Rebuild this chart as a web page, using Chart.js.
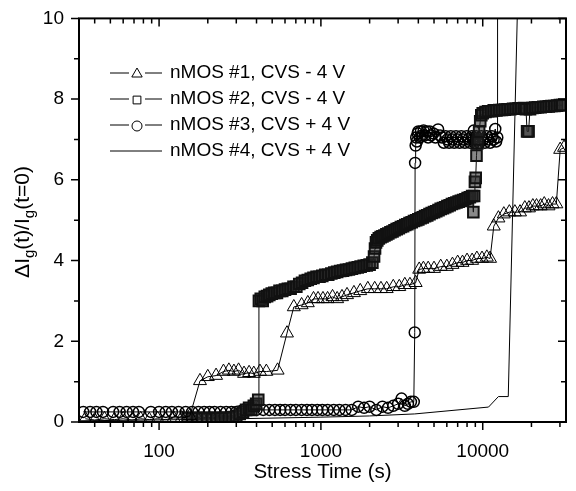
<!DOCTYPE html>
<html>
<head>
<meta charset="utf-8">
<script src="https://cdn.jsdelivr.net/npm/chart.js@4.4.0/dist/chart.umd.min.js"></script>
<style>
  html, body { margin: 0; padding: 0; background: #fff; }
  #wrap { width: 576px; height: 491px; position: relative; }
</style>
</head>
<body>
<div id="wrap"><canvas id="chart"></canvas></div>
<script>
// Values: [stress time (s), dIg/Ig]
const nmos1 = [
  [35,0.08],[40,0.05],[46,0.08],[53,0.06],[60,0.08],[68,0.05],[77,0.08],[87,0.06],[98,0.08],[110,0.06],
  [123,0.1],[138,0.1],[155,0.15],[179,1.02],[200,1.12],[225,1.15],[250,1.25],[270,1.28],[290,1.25],
  [310,1.28],[335,1.2],[360,1.22],[385,1.2],[420,1.25],[460,1.25],[540,1.28],[617,2.2],[680,2.85],
  [760,2.9],[830,2.95],[900,3.05],[960,3.05],[1030,3.05],[1100,3.05],[1180,3.1],[1260,3.05],[1350,3.1],
  [1450,3.15],[1600,3.2],[1750,3.25],[1950,3.3],[2150,3.3],[2350,3.3],[2550,3.3],[2800,3.35],[3050,3.35],
  [3300,3.4],[3550,3.4],[3850,3.45],[4050,3.78],[4300,3.8],[4600,3.8],[5000,3.8],[5500,3.85],[6000,3.85],
  [6500,3.9],[7000,3.95],[7500,3.95],[8000,4.0],[8600,4.0],[9200,4.05],[9900,4.05],[10600,4.08],[11100,4.05],
  [11700,4.85],[12500,5.05],[13500,5.15],[14600,5.2],[15800,5.2],[17000,5.2],[18200,5.3],[19300,5.3],
  [20400,5.35],[21500,5.35],[22800,5.35],[24000,5.4],[25500,5.35],[27000,5.4],[28500,5.4],[30100,6.75],[31800,6.8]
];
const nmos2 = [
  [150,0.1],[160,0.08],[172,0.1],[185,0.08],[198,0.1],[212,0.08],[226,0.1],[240,0.1],[255,0.1],[270,0.1],
  [285,0.12],[300,0.15],[315,0.2],[330,0.25],[345,0.3],[360,0.35],[372,0.3],[385,0.4],[398,0.45],[410,0.55],
  [414,3.0],[425,3.05],[437,3.0],[450,3.1],[465,3.12],[480,3.15],[497,3.18],[515,3.2],[535,3.2],[555,3.25],
  [577,3.25],[600,3.28],[625,3.3],[650,3.3],[677,3.35],[705,3.35],[735,3.42],[765,3.45],[797,3.5],[830,3.52],
  [865,3.55],[900,3.57],[940,3.6],[980,3.6],[1020,3.62],[1065,3.65],[1110,3.65],[1160,3.68],[1210,3.7],
  [1260,3.72],[1315,3.74],[1370,3.75],[1430,3.77],[1490,3.78],[1555,3.8],[1620,3.82],[1690,3.83],[1760,3.85],
  [1840,3.87],[1920,3.88],[2000,3.9],[2080,3.95],[2130,4.1],[2160,4.3],[2190,4.45],[2230,4.5],[2280,4.55],
  [2340,4.58],[2400,4.6],[2470,4.62],[2540,4.65],[2610,4.67],[2690,4.7],[2770,4.72],[2850,4.75],[2940,4.78],
  [3030,4.8],[3120,4.83],[3220,4.85],[3320,4.88],[3420,4.9],[3530,4.93],[3640,4.95],[3760,4.98],[3880,5.0],
  [4000,5.02],[4130,5.05],[4260,5.07],[4400,5.1],[4540,5.12],[4690,5.15],[4840,5.18],[5000,5.2],[5160,5.22],
  [5330,5.25],[5500,5.28],[5680,5.3],[5860,5.32],[6050,5.35],[6250,5.37],[6450,5.4],[6660,5.42],[6880,5.44],
  [7100,5.46],[7330,5.48],[7570,5.5],[7820,5.52],[8070,5.55],[8330,5.57],[8600,5.6],[8750,5.2],[8850,5.6],
  [8950,5.95],[9050,6.05],[9150,6.6],[9250,6.9],[9350,7.0],[9500,7.2],[9650,7.45],[9800,7.6],[10000,7.65],
  [10400,7.68],[10800,7.7],[11250,7.7],[11700,7.72],[12150,7.72],[12650,7.73],[13150,7.73],[13700,7.74],
  [14250,7.75],[14800,7.75],[15400,7.76],[16000,7.76],[16650,7.77],[17300,7.77],[18000,7.78],[18500,7.75],
  [18800,7.2],[19200,7.2],[19600,7.75],[20300,7.78],[21100,7.79],[21900,7.8],[22800,7.8],[23700,7.81],
  [24600,7.81],[25600,7.82],[26600,7.83],[27700,7.83],[28800,7.84],[30000,7.85],[31000,7.85]
];
const nmos3 = [
  [34,0.25],[37.5,0.25],[41,0.25],[45,0.25],[52,0.25],[57,0.25],[63,0.25],[69,0.25],[75,0.25],[89,0.25],
  [100,0.25],[110,0.25],[120,0.25],[132,0.25],[146,0.25],[160,0.25],[175,0.25],[190,0.25],[205,0.25],
  [220,0.25],[240,0.25],[260,0.25],[280,0.25],[300,0.25],[330,0.3],[360,0.3],[400,0.3],[440,0.3],[480,0.3],
  [520,0.3],[560,0.3],[600,0.3],[650,0.3],[700,0.3],[760,0.3],[820,0.3],[880,0.3],[950,0.3],[1020,0.3],
  [1100,0.3],[1200,0.3],[1300,0.3],[1420,0.3],[1550,0.3],[1700,0.38],[1850,0.35],[2000,0.38],[2200,0.3],
  [2400,0.38],[2600,0.35],[2800,0.4],[3000,0.45],[3150,0.58],[3300,0.4],[3450,0.45],[3600,0.5],[3750,0.5],
  [3800,2.22],[3820,6.42],[3850,6.85],[3880,7.05],[3920,6.95],[3960,7.15],[4000,7.2],[4080,7.05],[4150,7.2],
  [4230,7.1],[4310,7.22],[4400,7.1],[4500,7.2],[4600,7.05],[4700,7.2],[4800,7.1],[4950,7.15],[5100,7.05],
  [5300,7.25],[5450,7.1],[5600,7.05],[5750,6.92],[5900,7.08],[6050,7.0],[6200,6.92],[6350,7.08],[6500,7.0],
  [6670,6.92],[6840,7.08],[7010,7.0],[7190,6.92],[7370,7.08],[7560,7.0],[7750,6.92],[7950,7.08],
  [8150,7.0],[8360,6.92],[8570,7.08],[8700,7.0],[8800,7.22],[8900,6.92],[9100,7.08],[9330,7.0],
  [9570,6.92],[9810,7.08],[10060,7.0],[10310,6.92],[10570,7.08],[10840,7.0],[11110,6.92],[11390,7.08],
  [11680,7.0],[11950,7.26],[12100,6.95],[12300,7.05],[12350,60]
];
const nmos4 = [
  [32,0.03],[100,0.05],[300,0.08],[1000,0.12],[2000,0.15],[3800,0.2],[10860,0.37],[12500,0.63],[14380,0.63],[16560,11]
];

const seriesLabels = ['nMOS #1, CVS - 4 V', 'nMOS #2, CVS - 4 V', 'nMOS #3, CVS + 4 V', 'nMOS #4, CVS + 4 V'];
const xTickLabels = [100, 1000, 10000];
const yTickLabels = [0, 2, 4, 6, 8, 10];

const FONT = "'Liberation Sans', Arial, sans-serif";

function toPoints(arr) {
    return arr.map(p => ({ x: p[0], y: p[1] }));
}

// frame, ticks, y title and legend drawn on top
const decorPlugin = {
    id: 'decor',
    afterDraw(chart) {
        const ctx = chart.ctx;
        const area = chart.chartArea;
        const xs = chart.scales.x;
        const ys = chart.scales.y;
        ctx.save();
        ctx.strokeStyle = '#000';
        ctx.lineWidth = 2;
        ctx.strokeRect(area.left, area.top, area.right - area.left, area.bottom - area.top);

        // x ticks: outward at bottom, inward at top
        ctx.lineWidth = 1.5;
        for (let d = 10; d <= 10000; d *= 10) {
            for (let m = 1; m <= 9; m++) {
                const v = m * d;
                if (v < xs.min || v > xs.max) continue;
                const px = xs.getPixelForValue(v);
                const len = m === 1 ? 8 : 5;
                ctx.beginPath();
                ctx.moveTo(px, area.bottom); ctx.lineTo(px, area.bottom + len);
                ctx.moveTo(px, area.top); ctx.lineTo(px, area.top + len);
                ctx.stroke();
            }
        }
        // y ticks: outward at left, inward at right
        for (let v = 0; v <= 10; v++) {
            const py = ys.getPixelForValue(v);
            const len = v % 2 === 0 ? 8 : 5;
            ctx.beginPath();
            ctx.moveTo(area.left, py); ctx.lineTo(area.left - len, py);
            ctx.moveTo(area.right, py); ctx.lineTo(area.right - len, py);
            ctx.stroke();
        }

        // y title with subscripts
        const parts = [['\u0394I', 0], ['g', 1], ['(t)/I', 0], ['g', 1], ['(t=0)', 0]];
        const mainFont = '21px ' + FONT;
        const subFont = '15px ' + FONT;
        let total = 0;
        parts.forEach(p => { ctx.font = p[1] ? subFont : mainFont; total += ctx.measureText(p[0]).width; });
        ctx.translate(29, 222);
        ctx.rotate(-Math.PI / 2);
        ctx.fillStyle = '#000';
        ctx.textBaseline = 'alphabetic';
        ctx.textAlign = 'left';
        let cx = -total / 2;
        parts.forEach(p => {
            ctx.font = p[1] ? subFont : mainFont;
            ctx.fillText(p[0], cx, p[1] ? 5 : 0);
            cx += ctx.measureText(p[0]).width;
        });
        ctx.restore();

        // legend
        ctx.save();
        const rows = [73, 99, 125, 151];
        ctx.font = '19px ' + FONT;
        ctx.textBaseline = 'middle';
        ctx.fillStyle = '#000';
        ctx.strokeStyle = '#000';
        chart.data.datasets.forEach((ds, i) => {
            const y = rows[i];
            ctx.lineWidth = 1;
            ctx.beginPath();
            if (ds.pointRadius > 0) {
                ctx.moveTo(110, y); ctx.lineTo(129, y);
                ctx.moveTo(145, y); ctx.lineTo(162, y);
            } else {
                ctx.moveTo(110, y); ctx.lineTo(162, y);
            }
            ctx.stroke();
            if (ds.pointRadius > 0) {
                ctx.fillStyle = '#fff';
                ctx.strokeStyle = '#000';
                ctx.lineWidth = 1;
                Chart.helpers.drawPoint(ctx, { pointStyle: ds.pointStyle, radius: ds.legendRadius, borderWidth: 1, rotation: 0 }, 137, y + 1);
                ctx.fillStyle = '#000';
            }
            ctx.fillText(ds.label, 170, y);
        });
        ctx.restore();
    }
};

const datasets = [
    {
        label: seriesLabels[0], data: toPoints(nmos1), showLine: true,
        borderColor: '#000', borderWidth: 1, pointStyle: 'triangle', pointRadius: 7.5, legendRadius: 6,
        pointBackgroundColor: 'rgba(255,255,255,0)', pointBorderColor: '#000', pointBorderWidth: 1
    },
    {
        label: seriesLabels[1], data: toPoints(nmos2), showLine: true,
        borderColor: '#000', borderWidth: 1, pointStyle: 'rect', pointRadius: 7.5, legendRadius: 5.5,
        pointBackgroundColor: 'rgba(40,40,40,0.55)', pointBorderColor: '#111', pointBorderWidth: 2
    },
    {
        label: seriesLabels[2], data: toPoints(nmos3), showLine: true,
        borderColor: '#000', borderWidth: 1, pointStyle: 'circle', pointRadius: 5.5, legendRadius: 5,
        pointBackgroundColor: 'rgba(255,255,255,0)', pointBorderColor: '#000', pointBorderWidth: 1.5
    },
    {
        label: seriesLabels[3], data: toPoints(nmos4), showLine: true,
        borderColor: '#000', borderWidth: 1, pointRadius: 0, legendRadius: 0
    }
];

new Chart(document.getElementById('chart'), {
    type: 'scatter',
    data: { datasets: datasets },
    plugins: [decorPlugin],
    options: {
        responsive: true,
        maintainAspectRatio: false,
        animation: false,
        layout: { padding: { top: 13, right: 2, left: 0, bottom: 0 } },
        plugins: { legend: { display: false }, tooltip: { enabled: false } },
        scales: {
            x: {
                type: 'logarithmic', min: 32, max: 32700,
                grid: { display: false }, border: { display: false },
                afterFit: s => { s.height = 69; },
                ticks: {
                    autoSkip: false, maxRotation: 0, padding: 10, color: '#000',
                    font: { size: 19, family: FONT },
                    callback: v => xTickLabels.includes(v) ? String(v) : ''
                },
                title: {
                    display: true, text: 'Stress Time (s)', color: '#000',
                    font: { size: 20.5, family: FONT }, padding: { top: 0, bottom: 6 }
                }
            },
            y: {
                min: 0, max: 10,
                grid: { display: false }, border: { display: false },
                afterFit: s => { s.width = 79; },
                ticks: {
                    stepSize: 2, padding: 7, color: '#000',
                    font: { size: 19, family: FONT },
                    callback: v => yTickLabels.includes(v) ? String(v) : ''
                }
            }
        }
    }
});
</script>
</body>
</html>
